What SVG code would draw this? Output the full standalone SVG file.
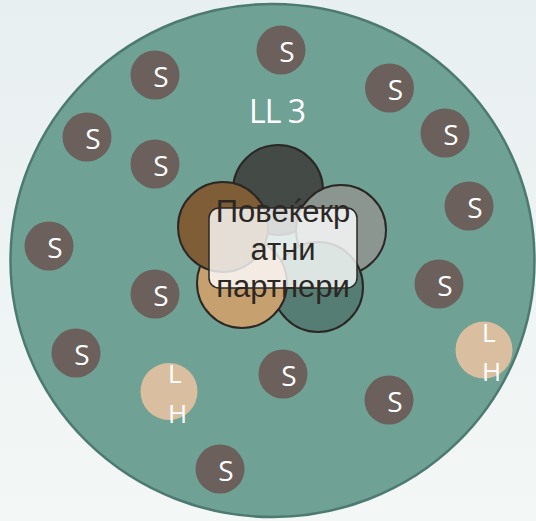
<svg xmlns="http://www.w3.org/2000/svg" width="536" height="521" viewBox="0 0 536 521">
<defs>
<linearGradient id="bg" x1="0" y1="0" x2="0" y2="1">
<stop offset="0" stop-color="#e8eff0"/>
<stop offset="1" stop-color="#f3f7f6"/>
</linearGradient>
<style>
.s circle{fill:#6b605b}
.s text{fill:#ffffff;font-family:"Open Sans","DejaVu Sans",sans-serif;font-size:28px;text-anchor:middle}
.lh circle{fill:#d9bf9f}
.lh text{fill:#ffffff;font-family:"Open Sans","DejaVu Sans",sans-serif;font-size:26px}
.petal{stroke:#2b2724;stroke-width:2}
</style>
</defs>
<rect width="536" height="521" fill="url(#bg)"/>
<g id="outer">
<ellipse cx="272.5" cy="260.5" rx="262" ry="256.5" fill="#6fa195" stroke="#4d7a70" stroke-width="2.5"/>
<text x="277" y="123" fill="#ffffff" font-family="'Open Sans','DejaVu Sans',sans-serif" font-size="32" text-anchor="middle" letter-spacing="-1">LL 3</text>
</g>
<g id="s1" class="s"><circle cx="281" cy="50" r="24.5"/><text x="287" y="62">S</text></g>
<g id="s2" class="s"><circle cx="155" cy="75" r="24.5"/><text x="161" y="87">S</text></g>
<g id="s3" class="s"><circle cx="389.5" cy="88" r="24.5"/><text x="395.5" y="100">S</text></g>
<g id="s4" class="s"><circle cx="87" cy="137" r="24.5"/><text x="93" y="149">S</text></g>
<g id="s5" class="s"><circle cx="445" cy="133" r="24.5"/><text x="451" y="145">S</text></g>
<g id="s6" class="s"><circle cx="155" cy="164" r="24.5"/><text x="161" y="176">S</text></g>
<g id="s7" class="s"><circle cx="469" cy="206" r="24.5"/><text x="475" y="218">S</text></g>
<g id="s8" class="s"><circle cx="49" cy="246" r="24.5"/><text x="55" y="258">S</text></g>
<g id="s9" class="s"><circle cx="439" cy="284" r="24.5"/><text x="445" y="296">S</text></g>
<g id="s10" class="s"><circle cx="155" cy="294" r="24.5"/><text x="161" y="306">S</text></g>
<g id="s11" class="s"><circle cx="76" cy="353" r="24.5"/><text x="82" y="365">S</text></g>
<g id="s12" class="s"><circle cx="283" cy="374" r="24.5"/><text x="289" y="386">S</text></g>
<g id="s13" class="s"><circle cx="389" cy="400" r="24.5"/><text x="395" y="412">S</text></g>
<g id="s14" class="s"><circle cx="220" cy="469" r="24.5"/><text x="226" y="481">S</text></g>
<g id="lh1" class="lh"><circle cx="169" cy="391.5" r="28.5"/><text x="168" y="383">L</text><text x="168" y="423">H</text></g>
<g id="lh2" class="lh"><circle cx="484" cy="350" r="28.5"/><text x="482" y="342">L</text><text x="482" y="381">H</text></g>
<g id="center">
<circle class="petal" cx="278" cy="190" r="45" fill="#444a45"/>
<circle class="petal" cx="341" cy="230" r="45" fill="#8b9690"/>
<circle class="petal" cx="318" cy="287" r="45" fill="#567d73"/>
<circle class="petal" cx="242" cy="283" r="45" fill="#c6a06e"/>
<circle class="petal" cx="223" cy="227" r="45" fill="#7f5d36"/>
<rect x="209" y="208" width="148" height="80" rx="10" fill="#ffffff" fill-opacity="0.8" stroke="#2b2724" stroke-width="1.5"/>
<text font-family="'Liberation Sans',Arial,sans-serif" font-size="31" fill="#2b2724" text-anchor="middle"><tspan x="283" y="222">Повеќекр</tspan><tspan x="283" y="260">атни</tspan><tspan x="283" y="297">партнери</tspan></text>
</g>
</svg>
